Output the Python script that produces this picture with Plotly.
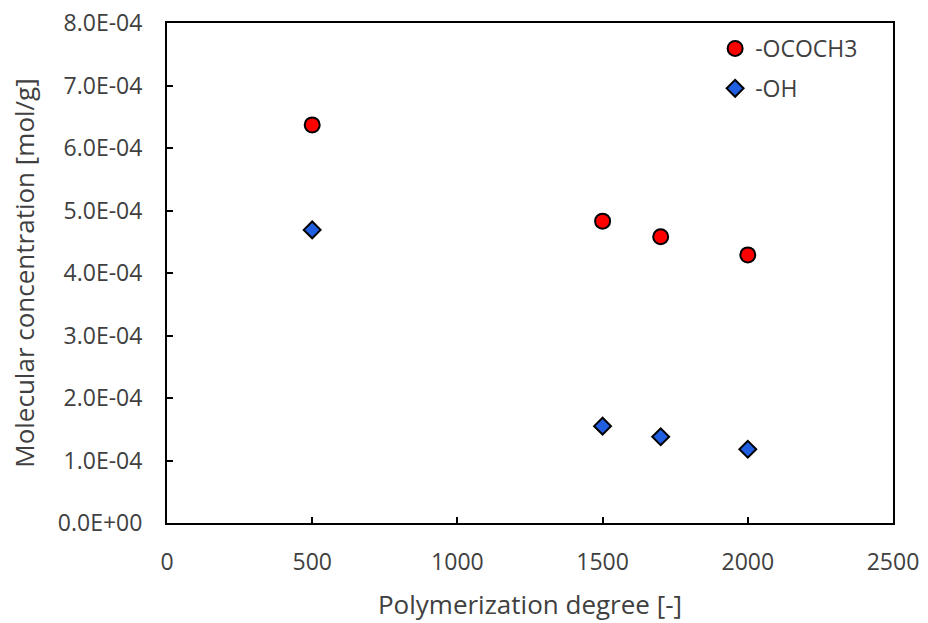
import plotly.graph_objects as go

# Polymerization degree and molecular concentrations of functional groups
degree = [500, 1500, 1700, 2000]
ococh3 = [6.37e-4, 4.83e-4, 4.58e-4, 4.29e-4]
oh = [4.69e-4, 1.55e-4, 1.38e-4, 1.18e-4]

y_ticks = [i * 1e-4 for i in range(9)]
y_tick_text = ["0.0E+00"] + [f"{i}.0E-04" for i in range(1, 9)]

font_family = "Open Sans, Liberation Sans, sans-serif"
text_color = "#404040"

fig = go.Figure()
fig.add_trace(go.Scatter(
    x=degree, y=ococh3, mode="markers", name="-OCOCH3", legendgroup="a",
    marker=dict(symbol="circle", size=15, color="#ff0000",
                line=dict(color="#000000", width=2)),
))
fig.add_trace(go.Scatter(
    x=degree, y=oh, mode="markers", name="-OH", legendgroup="b",
    marker=dict(symbol="diamond", size=13, color="#1f5fe0",
                line=dict(color="#000000", width=2)),
))

fig.update_layout(
    width=928, height=623,
    margin=dict(l=167, r=35, t=23, b=100),
    paper_bgcolor="white", plot_bgcolor="white",
    font=dict(family=font_family, size=23, color=text_color),
    showlegend=True,
    legend=dict(x=0.755, y=0.992, xanchor="left", yanchor="top",
                bgcolor="rgba(0,0,0,0)", font=dict(size=23, color=text_color),
                itemsizing="trace", tracegroupgap=7, traceorder="grouped"),
    xaxis=dict(
        range=[0, 2500], tickvals=[0, 500, 1000, 1500, 2000, 2500],
        showgrid=False, zeroline=False, automargin=False,
        showline=True, linecolor="#000000", linewidth=2, mirror=True,
        ticks="inside", ticklen=6, tickwidth=2, tickcolor="#000000",
        ticklabelstandoff=17,
        title=dict(text="Polymerization degree [-]", font=dict(size=26, color=text_color), standoff=20),
        tickfont=dict(size=23, color=text_color),
    ),
    yaxis=dict(
        range=[0, 8e-4], tickvals=y_ticks, ticktext=y_tick_text,
        showgrid=False, zeroline=False, automargin=False,
        showline=True, linecolor="#000000", linewidth=2, mirror=True,
        ticks="inside", ticklen=6, tickwidth=2, tickcolor="#000000",
        ticklabelstandoff=18,
        title=dict(text="Molecular concentration [mol/g]", font=dict(size=26, color=text_color), standoff=16),
        tickfont=dict(size=23, color=text_color),
    ),
)

fig.write_html("out.html")
